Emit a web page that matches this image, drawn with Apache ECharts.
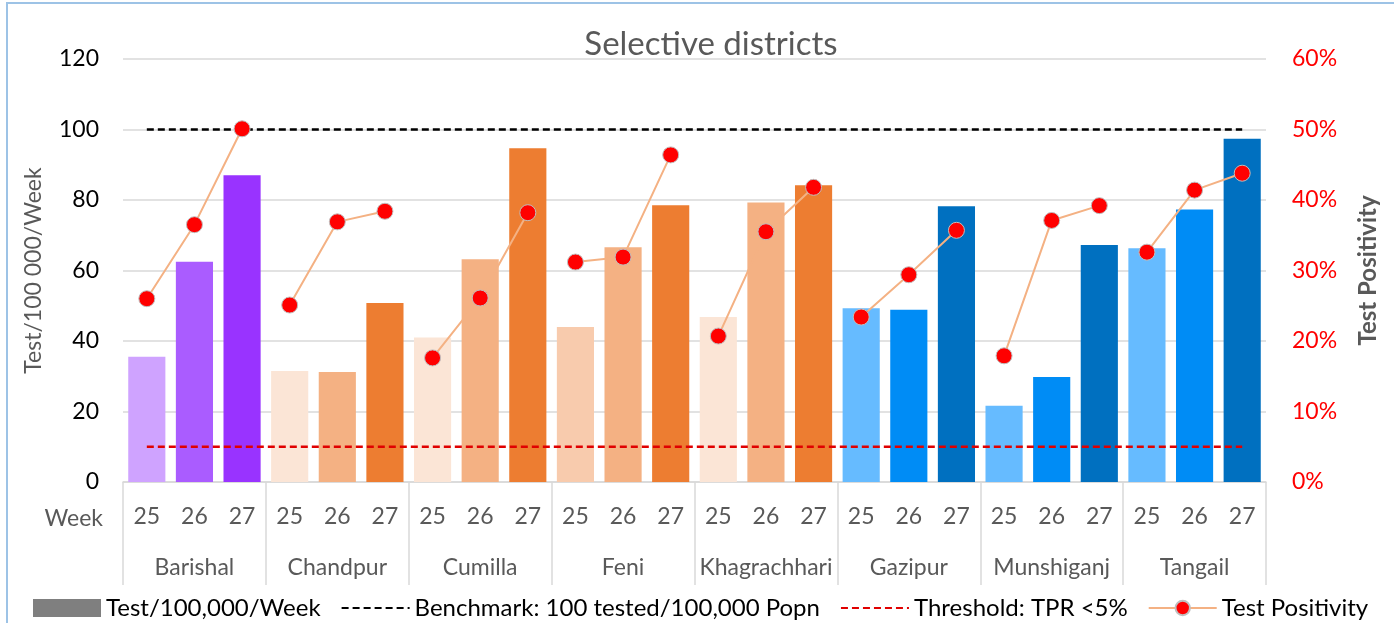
<!DOCTYPE html>
<html><head><meta charset="utf-8">
<script src="https://cdn.jsdelivr.net/npm/echarts@6/dist/echarts.min.js"></script>
<style>html,body{margin:0;padding:0;background:#fff}#c{width:1394px;height:623px}</style>
</head><body><div id="c"></div>
<script>
const districts = ['Barishal','Chandpur','Cumilla','Feni','Khagrachhari','Gazipur','Munshiganj','Tangail'];
const weeks = ['25','26','27'];
const testsPer100k = [35.5,62.5,87, 31.5,31.2,50.8, 41,63.2,94.7, 44,66.6,78.5, 46.8,79.3,84.2, 49.3,48.9,78.2, 21.6,29.8,67.2, 66.3,77.3,97.4];
const positivity = [0.26,0.365,0.501, 0.251,0.369,0.384, 0.176,0.261,0.382, 0.312,0.319,0.464, 0.207,0.355,0.418, 0.234,0.294,0.357, 0.179,0.371,0.392, 0.326,0.414,0.438];
const barColors = ['#CFA3FF','#AA5CFF','#9933FF',
  '#FBE5D6','#F4B183','#ED7D31',
  '#FBE5D6','#F4B183','#ED7D31',
  '#F8CBAD','#F4B183','#ED7D31',
  '#FBE5D6','#F4B183','#ED7D31',
  '#66BBFF','#008CF5','#0070C0',
  '#66BBFF','#008CF5','#0070C0',
  '#66BBFF','#008CF5','#0070C0'];
const benchmark = 100;
const threshold = 0.05;

const cats = [];
districts.forEach(d => weeks.forEach(w => cats.push(w)));
const FONT = 'Lato';
const FS = 23;

const posSeries = districts.map((d, di) => ({
  name: 'Test Positivity', type: 'line', yAxisIndex: 1, xAxisIndex: 0,
  data: positivity.map((v, i) => Math.floor(i / 3) === di ? v : null),
  connectNulls: false,
  lineStyle: { color: '#F4B183', width: 2 },
  itemStyle: { color: '#FF0000', borderColor: '#BFBFBF', borderWidth: 1 },
  symbol: 'circle', symbolSize: 16, z: 5
}));

const chart = echarts.init(document.getElementById('c'), null, { renderer: 'canvas' });
chart.setOption({
  animation: false,
  textStyle: { fontFamily: FONT },
  title: { text: 'Selective districts', left: 706, textAlign: 'center', top: 23,
    textStyle: { fontFamily: FONT, fontSize: 33, fontWeight: 'normal', color: '#595959' } },
  graphic: [{ type: 'rect', shape: { x: 7, y: 3, width: 1500, height: 700 },
    style: { fill: 'none', stroke: '#9DC3E6', lineWidth: 2 }, silent: true }],
  legend: {
    bottom: -2, left: 28, itemGap: 20, itemWidth: 68, itemHeight: 18,
    textStyle: { fontFamily: FONT, fontSize: 24, color: '#000' },
    data: [
      { name: 'Test/100,000/Week', icon: 'rect' },
      { name: 'Benchmark: 100 tested/100,000 Popn', itemStyle: { opacity: 0 } },
      { name: 'Threshold: TPR <5%', itemStyle: { opacity: 0 } },
      { name: 'Test Positivity' }
    ]
  },
  grid: { left: 123, right: 128, top: 59, bottom: 141 },
  xAxis: [{
    type: 'category', data: cats, position: 'bottom',
    axisLine: { lineStyle: { color: '#D9D9D9', width: 1.5 } },
    axisTick: { show: false },
    axisLabel: { margin: 23, fontSize: FS, color: '#595959', fontFamily: FONT, interval: 0 },
    name: 'Week', nameLocation: 'start', nameGap: 20,
    nameTextStyle: { fontSize: FS, color: '#595959', fontFamily: FONT, verticalAlign: 'top', padding: [25, 0, 0, 0] }
  }, {
    type: 'category', data: districts, position: 'bottom',
    axisLine: { show: false },
    axisTick: { show: true, length: 103, lineStyle: { color: '#D9D9D9', width: 1.5 } },
    axisLabel: { margin: 74, fontSize: FS, color: '#595959', fontFamily: FONT, interval: 0 }
  }],
  yAxis: [{
    type: 'value', min: 0, max: 120, interval: 20,
    axisLine: { show: false }, axisTick: { show: false },
    splitLine: { lineStyle: { color: '#D9D9D9', width: 1.5 } },
    axisLabel: { margin: 24, fontSize: FS, color: '#000', fontFamily: FONT },
    name: 'Test/100 000/Week', nameLocation: 'middle', nameGap: 78, nameRotate: 90,
    nameTextStyle: { fontSize: 23, color: '#595959', fontFamily: FONT }
  }, {
    type: 'value', min: 0, max: 0.6, interval: 0.1, position: 'right',
    axisLine: { show: false }, axisTick: { show: false }, splitLine: { show: false },
    axisLabel: { margin: 26, fontSize: FS, color: '#FF0000', fontFamily: FONT,
      formatter: v => Math.round(v * 100) + '%' },
    name: 'Test Positivity', nameLocation: 'middle', nameGap: 90, nameRotate: 90,
    nameTextStyle: { fontSize: 24, color: '#595959', fontWeight: 'bold', fontFamily: FONT }
  }],
  series: [{
    name: 'Test/100,000/Week', type: 'bar', xAxisIndex: 0, yAxisIndex: 0,
    barCategoryGap: '22%',
    itemStyle: { color: '#7F7F7F' },
    data: testsPer100k.map((v, i) => ({ value: v, itemStyle: { color: barColors[i] } })),
    z: 2
  }, {
    name: 'Benchmark: 100 tested/100,000 Popn', type: 'line', yAxisIndex: 0,
    data: cats.map(() => benchmark), symbol: 'none',
    lineStyle: { color: '#000', width: 2.5, type: [7, 4] }, itemStyle: { color: '#000' }, z: 3
  }, {
    name: 'Threshold: TPR <5%', type: 'line', yAxisIndex: 1,
    data: cats.map(() => threshold), symbol: 'none',
    lineStyle: { color: '#E00000', width: 2.5, type: [7, 4] }, itemStyle: { color: '#E00000' }, z: 3
  }].concat(posSeries)
});
</script></body></html>
